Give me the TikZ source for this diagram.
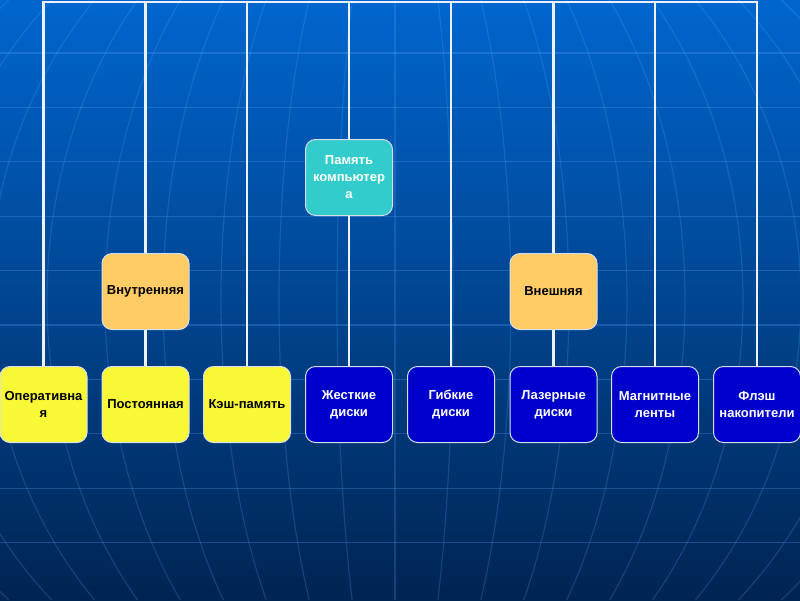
\documentclass[tikz,border=0pt]{standalone}
\usepackage{fontspec}
\setmainfont{Liberation Sans}
\definecolor{bgtop}{RGB}{0,102,206}
\definecolor{bgmid}{RGB}{0,72,150}
\definecolor{bgbot}{RGB}{0,36,82}
\definecolor{ylwbox}{RGB}{248,248,55}
\definecolor{orgbox}{RGB}{255,204,102}
\definecolor{tealbox}{RGB}{51,204,204}
\definecolor{bluebox}{RGB}{0,0,204}
\definecolor{gridcol}{RGB}{90,165,255}
\definecolor{linecol}{RGB}{236,242,252}
\definecolor{edgecol}{RGB}{215,222,235}
\begin{document}
\begin{tikzpicture}[x=1pt,y=-1pt,
  box/.style={rounded corners=10pt, minimum width=87pt, minimum height=76pt,
    draw=edgecol, line width=1pt, align=center, inner sep=2pt,
    font=\fontsize{13}{17}\selectfont\bfseries},
  ybox/.style={box, fill=ylwbox, text=black},
  obox/.style={box, fill=orgbox, text=black},
  tbox/.style={box, fill=tealbox, text=white},
  bbox/.style={box, fill=bluebox, text=white},
  meridian/.style={draw=gridcol, opacity=0.22, line width=1.2pt},
  parallel/.style={draw=gridcol, opacity=0.28, line width=1.3pt},
  conn/.style={draw=linecol, line width=2.5pt}]
\useasboundingbox (0,0) rectangle (800,600);
\shade[top color=bgtop, middle color=bgmid, bottom color=bgbot] (0,0) rectangle (800,600);
\begin{scope}
  \clip (0,0) rectangle (800,600);
  \foreach \k in {-11,...,11}
    \draw[meridian] plot[domain=0:600, samples=60, variable=\t]
      ({395+\k*58*sqrt(1-((\t-300)/446)^2)}, \t);
  \foreach \n in {0,...,9}
    \draw[parallel] (0,53+54.4*\n) -- (800,53+54.4*\n);
\end{scope}

% nodes
\node[tbox] (mem) at (349,177.5) {Память\\компьютер\\а};
\node[obox] (vnu) at (145.5,291.5) {Внутренняя};
\node[obox] (vne) at (553.5,291.5) {Внешняя};
\node[ybox] (op)  at (43.5,404.5) {Оперативна\\я};
\node[ybox] (pos) at (145.5,404.5) {Постоянная};
\node[ybox] (kes) at (247,404.5) {Кэш-память};
\node[bbox] (zh)  at (349,404.5) {Жесткие\\диски};
\node[bbox] (gib) at (451,404.5) {Гибкие\\диски};
\node[bbox] (laz) at (553.5,404.5) {Лазерные\\диски};
\node[bbox] (mag) at (655,404.5) {Магнитные\\ленты};
\node[bbox] (fl)  at (757,404.5) {Флэш\\накопители};

% connectors
\coordinate (bus) at (400,2);
\draw[conn, line cap=rect] (op.north |- bus) -- (fl.north |- bus);
\foreach \n in {op,vnu,kes,mem,gib,vne,mag,fl}
  \draw[conn] (\n.north) -- (\n.north |- bus);
\draw[conn] (vnu.south) -- (pos.north);
\draw[conn] (mem.south) -- (zh.north);
\draw[conn] (vne.south) -- (laz.north);
\end{tikzpicture}
\end{document}
